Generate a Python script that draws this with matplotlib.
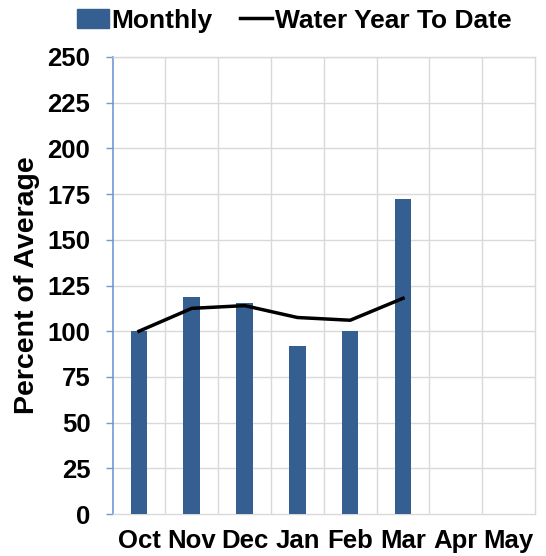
import matplotlib
matplotlib.use('Agg')
import matplotlib.pyplot as plt
import numpy as np
from matplotlib.patches import Patch
from matplotlib.lines import Line2D

plt.rcParams['font.family'] = ['Liberation Sans', 'DejaVu Sans']
plt.rcParams['font.weight'] = 'bold'

# data
months = ['Oct', 'Nov', 'Dec', 'Jan', 'Feb', 'Mar', 'Apr', 'May']
monthly = [100, 118.5, 115.5, 92, 100, 172.5]
wy_to_date = [100, 112.5, 114, 107.5, 106, 118]
yticks = np.arange(0, 251, 25)

fig = plt.figure(figsize=(5.46, 5.56), dpi=100)
ax = fig.add_axes([0.2062, 0.0755, 0.7736, 0.822])

x = np.arange(len(months))
ax.bar(x[:len(monthly)], monthly, width=0.315, color='#365F91', zorder=3)
ax.plot(x[:len(wy_to_date)], wy_to_date, color='black', lw=2.5, zorder=4)

ax.set_xlim(-0.5, len(months) - 0.5)
ax.set_ylim(0, 250)
ax.set_yticks(yticks)
ax.set_yticklabels([str(v) for v in yticks], fontsize=18.5, fontweight='bold')
ax.set_xticks(x)
ax.set_xticklabels(months, fontsize=18.5, fontweight='bold')
ax.tick_params(axis='x', length=0, pad=11)
ax.tick_params(axis='y', length=5, width=1, color='#6F9BD1', pad=11)

# gridlines: horizontal every 25, vertical at category edges
for yv in yticks[1:]:
    ax.axhline(yv, color='#D9D9D9', lw=1, zorder=1)
for xv in np.arange(0.5, len(months) - 0.5, 1):
    ax.axvline(xv, color='#D9D9D9', lw=1, zorder=1)

for s in ['top', 'right', 'bottom']:
    ax.spines[s].set_color('#D9D9D9')
    ax.spines[s].set_linewidth(1)
ax.spines['left'].set_color('#6F9BD1')
ax.spines['left'].set_linewidth(1.2)

ax.set_ylabel('Percent of Average', fontsize=20.5, fontweight='bold', labelpad=5)

handles = [Patch(color='#365F91'), Line2D([0], [0], color='black', lw=2.5)]
fig.legend(handles, ['Monthly', 'Water Year To Date'], loc='center',
           bbox_to_anchor=(0.539, 0.963), ncol=2, frameon=False,
           prop={'size': 19, 'weight': 'bold'}, handlelength=1.2,
           handletextpad=0.1, columnspacing=1.05)

fig.savefig('out.png', dpi=100)
